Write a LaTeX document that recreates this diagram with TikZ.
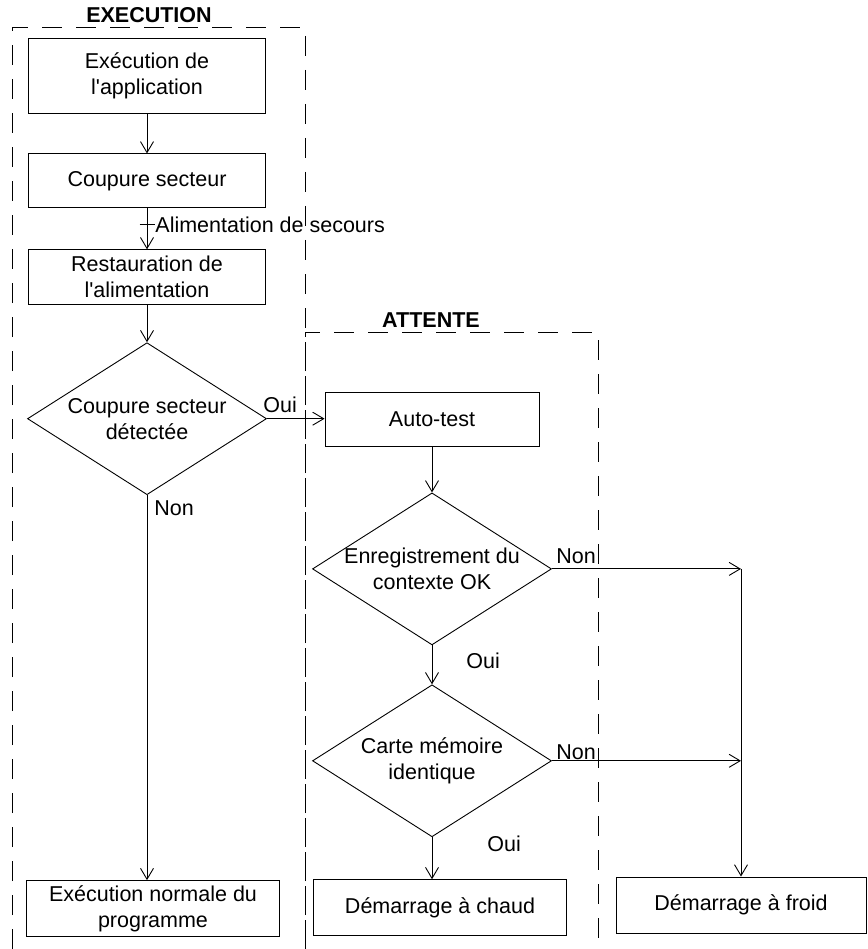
\documentclass[tikz,border=0pt]{standalone}
\usepackage{fontspec}
\setmainfont{Liberation Sans}
\usetikzlibrary{arrows.meta,positioning,shapes.geometric}

\begin{document}
\begin{tikzpicture}[
  x=1pt, y=-1pt,
  line width=0.9pt,
  every node/.style={font=\fontsize{21.5}{26}\selectfont},
  box/.style={draw,align=center,minimum width=237pt,minimum height=55pt,inner sep=2pt},
  wide/.style={box,minimum width=253pt,minimum height=56pt},
  decision/.style={draw,diamond,aspect=1.6,inner sep=-12pt,align=center,minimum width=239pt,minimum height=152pt},
  lbl/.style={inner sep=0pt},
  title/.style={font=\fontsize{21.5}{26}\selectfont\bfseries},
  frame/.style={dash pattern=on 20pt off 14pt},
  arr/.style={-{Straight Barb[length=11pt,width=13pt]}}
]
\useasboundingbox (0,0) rectangle (867,949);

% swimlanes
\draw[frame] (12,949) |- (305,27) -- (305,949);
\draw[frame] (305,949) |- (598,332) -- (598,949);
\node[title] (exec) at (149,15) {EXECUTION};
\node[title] (wait) at (431,320) {ATTENTE};

% execution column
\node[box,minimum height=75pt] (app) at (147,75.5) {Exécution de\\l\textquotesingle application};
\node[box,below=40pt of app,minimum height=54pt] (cut) {Coupure secteur};
\node[box,below=41pt of cut] (rest) {Restauration de\\l\textquotesingle alimentation};
\node[decision,below=37pt of rest] (det) {Coupure secteur\\détectée};
\node[wide,below=385pt of det,xshift=6pt] (norm) {Exécution normale du\\programme};

% attente column
\node[box,minimum width=214pt,minimum height=54pt] (auto) at (432,419) {Auto-test};
\node[decision,below=46pt of auto] (ctx) {Enregistrement du\\contexte OK};
\node[decision,below=39pt of ctx] (card) {Carte mémoire\\identique};
\node[wide,below=42pt of card,xshift=8pt] (warm) {Démarrage à chaud};
\node[wide,minimum width=250pt] (cold) at (741,905) {Démarrage à froid};

\draw[arr] (app) -- (cut);
\draw[arr] (cut) -- coordinate[pos=0.4] (tick) (rest);
\draw ([xshift=-7.5pt]tick) -- ([xshift=7.5pt]tick);
\node[lbl,anchor=west] (secours) at ([xshift=8pt]tick) {Alimentation de secours};
\draw[arr] (rest) -- (det);
\draw[arr] (det.south) -- (det.south |- norm.north);
\draw[arr] (det.east) -- (det.east -| auto.west);
\draw[arr] (auto) -- (ctx);
\draw[arr] (ctx) -- (card);
\draw[arr] (card.south) -- (card.south |- warm.north);

% non branches
\coordinate (j1) at (cold.north |- ctx.east);
\coordinate (j2) at (cold.north |- card.east);
\draw[arr] (ctx.east) -- (j1);
\draw[arr] (card.east) -- (j2);
\draw[arr] (j1) -- (cold.north);

% labels
\node[lbl,anchor=south west] (oui1) at ([xshift=-4pt,yshift=6pt]det.east) {Oui};
\node[lbl,anchor=north west] (non1) at ([xshift=7pt,yshift=-5pt]det.south) {Non};
\node[lbl,anchor=south west] (non2) at ([xshift=4pt,yshift=5pt]ctx.east) {Non};
\node[lbl,anchor=north west] (oui2) at ([xshift=34pt,yshift=-7pt]ctx.south) {Oui};
\node[lbl,anchor=south west] (non3) at ([xshift=4pt,yshift=1pt]card.east) {Non};
\node[lbl,anchor=north west] (oui3) at ([xshift=55pt,yshift=2pt]card.south) {Oui};
\end{tikzpicture}
\end{document}
